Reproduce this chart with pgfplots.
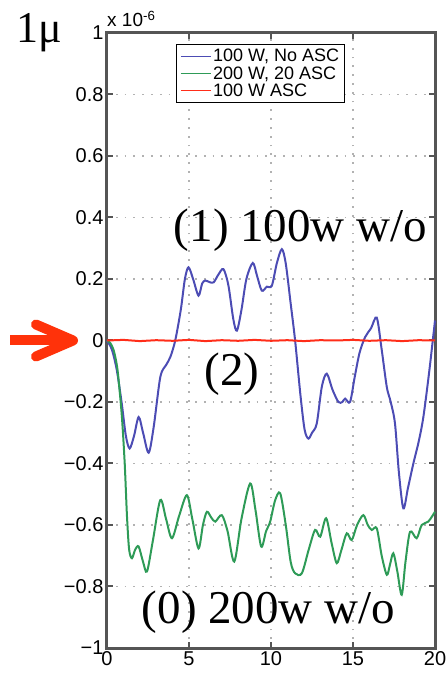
\documentclass[border=0pt]{standalone}
\usepackage{pgfplots}
\pgfplotsset{compat=1.18}
\usepackage{fontspec}
\setmainfont{Liberation Sans}
\newfontfamily\serifface{Liberation Serif}

\definecolor{lnblue}{RGB}{76,76,180}
\definecolor{lngreen}{RGB}{46,155,87}
\definecolor{lnred}{RGB}{255,45,25}
\definecolor{arrowred}{RGB}{255,50,10}
\definecolor{frame}{RGB}{85,85,85}

\begin{document}
\begin{tikzpicture}
\useasboundingbox (-107pt,-26pt) rectangle (340pt,648pt);
\begin{axis}[
  scale only axis,
  width=328pt, height=615pt,
  at={(0,0)}, anchor=south west,
  xmin=0, xmax=20, ymin=-1, ymax=1,
  xtick={0,5,10,15,20},
  ytick={-1,-0.8,-0.6,-0.4,-0.2,0,0.2,0.4,0.6,0.8,1},
  yticklabels={−1,−0.8,−0.6,−0.4,−0.2,0,0.2,0.4,0.6,0.8,1},
  /pgf/number format/assume math mode=true,
  ticklabel style={font=\fontsize{20}{23}\selectfont, text=black},
  tick align=inside,
  major tick length=6pt,
  tick style={line width=2pt, color=frame},
  axis line style={line width=3pt, color=frame},
  grid=major,
  major grid style={line width=1.8pt, color=gray!60, dash pattern=on 1.8pt off 7pt},
  clip=false,
  legend style={at={(rel axis cs:0.21,0.982)}, anchor=north west,
    draw=black, line width=1pt, fill=white,
    font=\fontsize{18}{20}\selectfont,
    inner xsep=4pt, inner ysep=3pt,
    nodes={inner sep=1.6pt}},
  legend cell align=left,
  legend image code/.code={\draw[#1, line width=1.2pt] (0pt,0pt) -- (30pt,0pt);},
]
\addplot[lnblue, line width=2pt, smooth, tension=0.5] coordinates {
(0,0) (0.3,-0.03) (0.6,-0.097) (0.9,-0.205) (1.15,-0.31) (1.38,-0.351) (1.65,-0.31)
(1.93,-0.249) (2.2,-0.3) (2.54,-0.365) (2.85,-0.28) (3.25,-0.119) (3.6,-0.08)
(3.86,-0.054) (4.16,0) (4.5,0.1) (4.75,0.2) (4.97,0.238) (5.25,0.2) (5.58,0.146)
(5.8,0.185) (5.99,0.195) (6.25,0.19) (6.5,0.189) (6.8,0.215) (7.1,0.232) (7.4,0.18)
(7.7,0.07) (7.92,0.032) (8.2,0.1) (8.5,0.2) (8.89,0.252) (9.15,0.21) (9.44,0.162)
(9.75,0.175) (10.05,0.178) (10.35,0.25) (10.66,0.297) (10.9,0.25) (11.2,0.12)
(11.47,0) (11.8,-0.18) (12.05,-0.29) (12.28,-0.319) (12.5,-0.3) (12.79,-0.27)
(13.1,-0.15) (13.4,-0.108) (13.75,-0.16) (14.11,-0.2) (14.35,-0.2) (14.52,-0.189)
(14.82,-0.2) (15.1,-0.12) (15.4,-0.04) (15.74,0.011) (16.1,0.04) (16.45,0.074)
(16.75,-0.03) (17.06,-0.151) (17.3,-0.2) (17.56,-0.27) (17.8,-0.43) (18.07,-0.546)
(18.35,-0.48) (18.68,-0.4) (19.0,-0.33) (19.29,-0.249) (19.65,-0.1) (20,0.065)
};
\addlegendentry{100 W, No ASC}
\addplot[lngreen, line width=2pt, smooth, tension=0.5] coordinates {
(0,0) (0.2,-0.008) (0.41,-0.032) (0.6,-0.08) (0.71,-0.13) (0.91,-0.249) (1.08,-0.4)
(1.22,-0.573) (1.35,-0.68) (1.52,-0.708) (1.72,-0.68) (1.93,-0.670) (2.2,-0.72)
(2.44,-0.751) (2.8,-0.65) (3.25,-0.519) (3.6,-0.58) (3.96,-0.643) (4.4,-0.57)
(4.87,-0.503) (5.2,-0.58) (5.58,-0.676) (5.85,-0.6) (6.09,-0.557) (6.35,-0.575)
(6.6,-0.589) (7.0,-0.568) (7.35,-0.62) (7.76,-0.719) (8.2,-0.58) (8.73,-0.465)
(9.05,-0.55) (9.4,-0.670) (9.7,-0.62) (9.95,-0.589) (10.25,-0.52) (10.56,-0.497)
(10.9,-0.6) (11.2,-0.72) (11.47,-0.757) (11.88,-0.757) (12.3,-0.68) (12.69,-0.616)
(13.0,-0.638) (13.36,-0.578) (13.7,-0.66) (14.01,-0.724) (14.3,-0.68) (14.62,-0.627)
(14.92,-0.649) (15.25,-0.6) (15.63,-0.568) (15.9,-0.6) (16.14,-0.616) (16.45,-0.611)
(16.75,-0.7) (17.06,-0.762) (17.25,-0.73) (17.46,-0.692) (17.7,-0.75) (17.97,-0.827)
(18.2,-0.72) (18.48,-0.622) (18.88,-0.643) (19.19,-0.6) (19.59,-0.589) (20,-0.557)
};
\addlegendentry{200 W, 20 ASC}
\addplot[lnred, line width=2pt] coordinates {
(0,0) (1,0.002) (2,-0.002) (3,0.001) (4,-0.001) (5,0.002) (6,-0.002) (7,0.001)
(8,-0.001) (9,0.002) (10,-0.001) (11,0.001) (12,-0.002) (13,0.001) (14,0)
(15,0.002) (16,-0.001) (17,0.001) (18,-0.002) (19,0.001) (20,0)
};
\addlegendentry{100 W ASC}

% annotations
\node[anchor=base west, font=\fontsize{19}{22}\selectfont, inner sep=0pt]
  at (axis cs:0,1.021) {x 10\textsuperscript{-6}};
\node[anchor=base, font=\serifface\fontsize{44}{50}\selectfont, inner sep=0pt]
  at (axis cs:-4.15,0.969) {1μ};
\node[font=\serifface\fontsize{47}{52}\selectfont, inner sep=0pt]
  at (axis cs:11.8,0.359) {(1) 100w w/o};
\node[font=\serifface\fontsize{47}{52}\selectfont, inner sep=0pt]
  at (axis cs:7.62,-0.11) {(2)};
\node[font=\serifface\fontsize{47}{52}\selectfont, inner sep=0pt]
  at (axis cs:9.85,-0.885) {(0) 200w w/o};
\draw[arrowred, line width=10pt] (axis cs:-5.91,0) -- (axis cs:-2.3,0);
\draw[arrowred, line width=10pt, line cap=round, line join=round]
  (axis cs:-4.33,0.052) -- (axis cs:-2.07,0) -- (axis cs:-4.33,-0.052);
\end{axis}
\end{tikzpicture}
\end{document}
